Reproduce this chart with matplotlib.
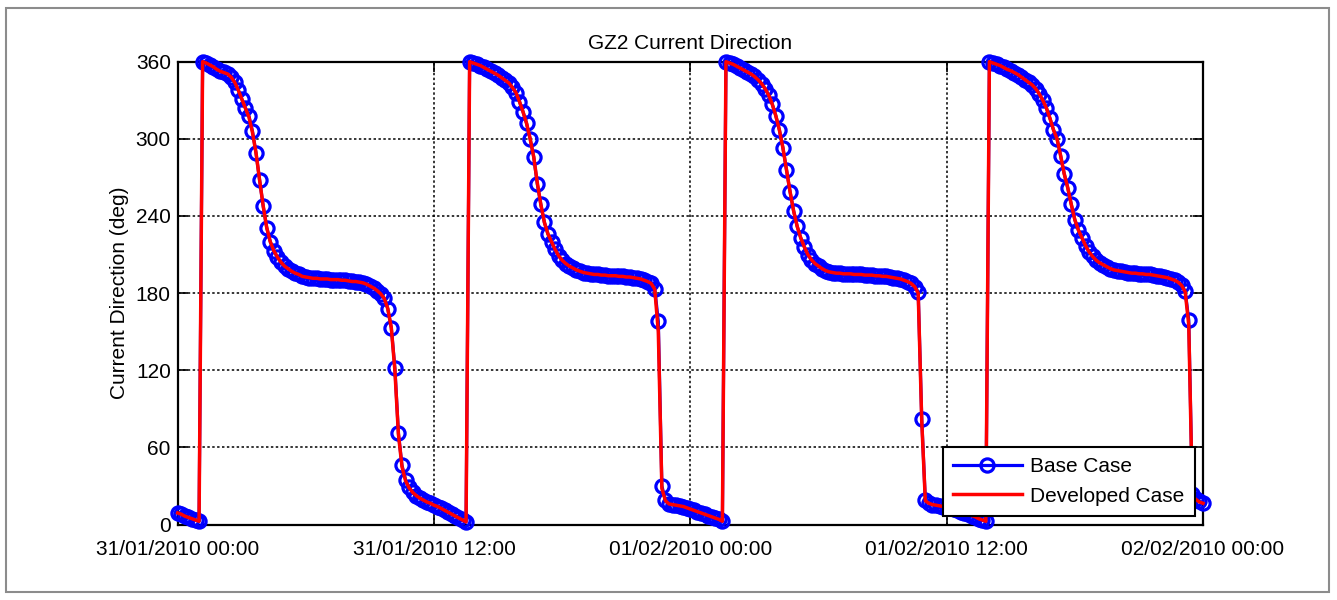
import matplotlib
matplotlib.use("Agg")
import matplotlib.pyplot as plt
import matplotlib.dates as mdates
import pandas as pd
from matplotlib.patches import Rectangle

# Current direction (deg), 10-minute samples from 31/01/2010 00:00
base_case = [
    9, 8, 6.5, 5.5, 4.5, 3.5,
    2.5, 360, 359, 357.5, 356, 354.5,
    353, 352, 350.5, 348, 344, 338,
    331, 324, 318, 306, 289, 268,
    248, 231, 220, 213, 208, 204,
    201, 199, 197, 195.5, 194.5, 193.5,
    192.5, 192, 191.5, 191.5, 191, 191,
    191, 190.5, 190.5, 190.5, 190, 190,
    189.5, 189.5, 189, 188.5, 188, 187,
    185.5, 184, 182, 179.5, 176, 168,
    153, 122, 71, 46, 35, 29,
    25, 22.5, 20.5, 19, 17.5, 16.5,
    15, 14, 12.5, 11, 9.5, 8,
    6.5, 5, 3.5, 2, 360, 359,
    358, 357, 355.5, 354, 352.5, 351,
    349.5, 347.5, 345.5, 343.5, 340, 336,
    329, 321, 312, 300, 286, 265,
    249, 235, 226, 220, 214, 209,
    205.5, 203, 201, 199.5, 198, 197,
    196, 195.5, 195, 194.5, 194.5, 194,
    194, 193.5, 193.5, 193.5, 193, 193,
    192.5, 192.5, 192, 191.5, 191, 190,
    189, 187.5, 183.5, 158, 30, 19,
    16, 15.5, 15, 14.5, 14, 13,
    12, 11, 10, 9, 8, 7,
    6, 5, 4, 2.5, 360, 359,
    358, 356.5, 355, 353.5, 352, 350.5,
    348.5, 346, 343, 339, 334, 327,
    318, 307, 293, 276, 259, 244,
    232, 223, 216, 210, 206, 203,
    201, 199, 197.5, 196.5, 196, 195.5,
    195.5, 195, 195, 195, 194.5, 194.5,
    194.5, 194, 194, 194, 193.5, 193.5,
    193, 193, 192.5, 192, 191.5, 191,
    190, 189, 187.5, 185, 181, 82,
    19, 16.5, 15.5, 15, 14.5, 14,
    13.5, 13, 12, 11, 10, 9,
    8, 7, 6, 4.5, 3.5, 2.5,
    360, 359, 358, 357, 355.5, 354,
    353, 351.5, 350, 348, 346, 344,
    342, 339, 335, 330, 324, 316,
    307, 300, 287, 273, 262, 249,
    237, 229, 223, 217, 212, 208.5,
    205.5, 203.5, 202, 200.5, 199, 198,
    197.5, 197, 196.5, 196, 195.5, 195.5,
    195, 195, 194.5, 194.5, 194, 193.5,
    193, 192.5, 192, 191, 190, 188.5,
    186, 181.5, 159, 24, 20, 18,
    17,
]

developed_case = [
    9, 8, 6.5, 5.5, 4.5, 3.5,
    2.5, 360, 359, 357.5, 356, 354,
    352.5, 351.5, 350.5, 348, 344, 338,
    331, 324, 317, 305, 289, 268,
    248, 231, 220, 213, 208, 204,
    201, 199, 197, 195.5, 194.5, 193,
    192.5, 192, 191.5, 191.5, 191, 191,
    191, 190.5, 190.5, 190.5, 190, 190,
    189.5, 189, 189, 188.5, 188, 187,
    185.5, 184, 182, 179.5, 176, 168,
    153, 120, 70, 45, 34, 28.5,
    25, 22.5, 20.5, 19, 17.5, 16.5,
    15, 14, 12.5, 11, 9.5, 8,
    6.5, 5, 3.5, 2, 360, 359,
    358, 357, 355.5, 354, 352.5, 351,
    349.5, 347.5, 345.5, 343.5, 340, 336,
    329, 321, 312, 300, 286, 266,
    249, 235, 226, 220, 214, 209,
    205.5, 203, 201, 199.5, 198, 197,
    196, 195.5, 195, 194.5, 194.5, 194,
    194, 193.5, 193.5, 193.5, 193, 193,
    192.5, 192.5, 192, 191.5, 191, 190,
    189, 187.5, 183, 150, 28, 18.5,
    16, 15.5, 15, 14.5, 14, 13,
    12, 11, 10, 9, 8, 7,
    6, 5, 4, 2.5, 360, 359,
    358, 356.5, 355, 353.5, 352, 350.5,
    348.5, 346, 343, 339, 334, 327,
    318, 307, 293, 276, 259, 244,
    232, 223, 216, 210, 206, 203,
    201, 199, 197.5, 196.5, 196, 195.5,
    195.5, 195, 195, 195, 194.5, 194.5,
    194.5, 194, 194, 194, 193.5, 193.5,
    193, 193, 192.5, 192, 191.5, 191,
    190, 189, 187.5, 185, 180, 80,
    18.5, 16.5, 15.5, 15, 14.5, 14,
    13.5, 13, 12, 11, 10, 9,
    8, 7, 6, 4.5, 3.5, 2.5,
    360, 359, 358, 357, 355.5, 354,
    353, 351.5, 350, 348, 346, 344,
    342, 339, 335, 330, 324, 316,
    307, 300, 287, 273, 262, 249,
    237, 229, 223, 217, 212, 208.5,
    205.5, 203.5, 202, 200.5, 199, 198,
    197.5, 197, 196.5, 196, 195.5, 195.5,
    195, 195, 194.5, 194.5, 194, 193.5,
    193, 192.5, 192, 191, 190, 188.5,
    186, 181, 155, 22, 19.5, 17.5,
    16.5,
]

start_time = "2010-01-31 00:00"
sample_step = "10min"
y_ticks = [0, 60, 120, 180, 240, 300, 360]
series_labels = ["Base Case", "Developed Case"]
title_text = "GZ2 Current Direction"
y_label_text = "Current Direction (deg)"

times = pd.date_range(start_time, periods=len(base_case), freq=sample_step)

plt.rcParams["font.family"] = ["Liberation Sans", "DejaVu Sans"]

W, H = 1337, 600
fig = plt.figure(figsize=(W / 100, H / 100), dpi=100)
fig.patch.set_facecolor("white")

# thin grey frame around the figure
fig.patches.append(Rectangle((6 / W, 8 / H), 1323 / W, 584 / H,
                             transform=fig.transFigure, fill=False,
                             edgecolor="#8c8c8c", lw=1.5))

ax = fig.add_axes([177.7 / W, 75.5 / H, 1025.3 / W, 462.8 / H])

ax.plot(times, base_case, "-o", color="blue", lw=2.3, ms=9.5,
        mfc="none", mec="blue", mew=2.3, label=series_labels[0],
        clip_on=False, zorder=3)
ax.plot(times, developed_case, "-", color="red", lw=2.5,
        label=series_labels[1], clip_on=False, zorder=4)

ax.set_xlim(times[0], times[-1])
ax.set_ylim(0, 360)
ax.set_yticks(y_ticks)
ax.xaxis.set_major_locator(mdates.HourLocator(byhour=[0, 12]))
ax.xaxis.set_major_formatter(mdates.DateFormatter("%d/%m/%Y %H:%M"))

ax.grid(True, color="black", lw=1.1, ls=(0, (1.6, 1.6)))
ax.set_axisbelow(True)
ax.tick_params(direction="in", length=7, width=1.2, top=True, right=True,
               labelsize=15)
ax.tick_params(axis="x", pad=11)
ax.tick_params(axis="y", pad=5)
for sp in ax.spines.values():
    sp.set_linewidth(1.6)

ax.set_title(title_text, fontsize=15, pad=9)
ax.set_ylabel(y_label_text, fontsize=15, labelpad=5)

leg = ax.legend(loc="lower right", fontsize=15, fancybox=False,
                framealpha=1, edgecolor="black", borderaxespad=0.4,
                handlelength=3.3, handletextpad=0.4, borderpad=0.5,
                labelspacing=0.5)
leg.get_frame().set_linewidth(1.5)

fig.savefig("out.png", dpi=100)
